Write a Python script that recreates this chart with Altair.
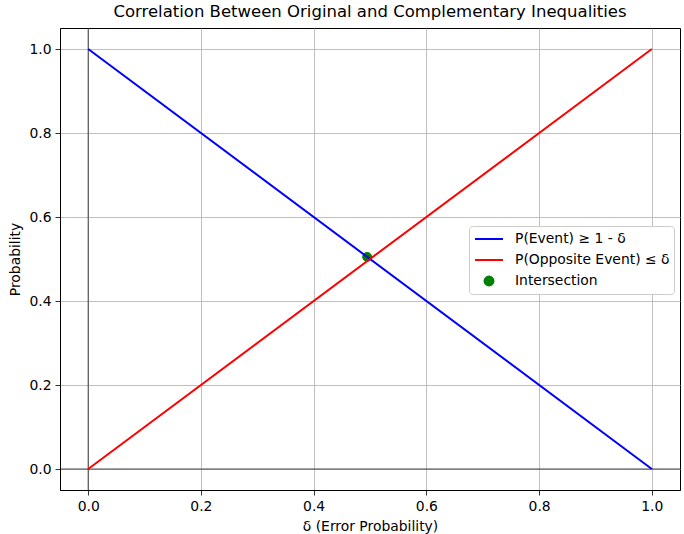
import altair as alt
import pandas as pd

delta = [0.0, 1.0]
p_event = [1.0, 0.0]
p_opposite = [0.0, 1.0]
inter_x = [0.4949]
inter_y = [0.5051]

labels = ["P(Event) ≥ 1 - δ", "P(Opposite Event) ≤ δ", "Intersection"]
colors = ["#0000ff", "#ff0000", "#008000"]
shapes = ["M-1.75,0H1.75", "M-1.75,0H1.75",
          "M0.56,0A0.56,0.56,0,1,1,-0.56,0A0.56,0.56,0,1,1,0.56,0Z"]

lines_df = pd.DataFrame({
    "x": delta + delta,
    "y": p_event + p_opposite,
    "series": [labels[0]] * len(delta) + [labels[1]] * len(delta),
})
pt_df = pd.DataFrame({"x": inter_x, "y": inter_y, "series": [labels[2]]})

FONT = "DejaVu Sans"
xscale = alt.Scale(domain=[-0.05, 1.05], nice=False, zero=False)
yscale = alt.Scale(domain=[-0.05, 1.05], nice=False, zero=False)
tick_vals = [0.0, 0.2, 0.4, 0.6, 0.8, 1.0]

xaxis = alt.Axis(values=tick_vals, format=".1f", title="δ (Error Probability)")
yaxis = alt.Axis(values=tick_vals, format=".1f", title="Probability")

legend = alt.Legend(title=None, orient="none", legendX=409, legendY=198)

stroke_scale = alt.Scale(domain=labels, range=colors)
fill_scale = alt.Scale(domain=labels, range=colors)
shape_scale = alt.Scale(domain=labels, range=shapes)

pts = alt.Chart(pt_df).mark_point(filled=True, size=256, strokeWidth=1, opacity=1).encode(
    x=alt.X("x:Q", scale=xscale, axis=xaxis),
    y=alt.Y("y:Q", scale=yscale, axis=yaxis),
    fill=alt.Fill("series:N", scale=fill_scale, legend=legend),
    stroke=alt.Stroke("series:N", scale=stroke_scale, legend=legend),
    shape=alt.Shape("series:N", scale=shape_scale, legend=legend),
)

lines = alt.Chart(lines_df).mark_line(strokeWidth=2).encode(
    x=alt.X("x:Q", scale=xscale, axis=xaxis),
    y=alt.Y("y:Q", scale=yscale, axis=yaxis),
    stroke=alt.Stroke("series:N", scale=stroke_scale, legend=legend),
    detail="series:N",
)

hline = alt.Chart(pd.DataFrame({"v": [0.0]})).mark_rule(color="black", strokeWidth=0.7).encode(
    y=alt.Y("v:Q", scale=yscale))
vline = alt.Chart(pd.DataFrame({"v": [0.0]})).mark_rule(color="black", strokeWidth=0.7).encode(
    x=alt.X("v:Q", scale=xscale))

chart = alt.layer(hline, vline, pts, lines).properties(
    width=620, height=462,
    title=alt.TitleParams("Correlation Between Original and Complementary Inequalities",
                          fontSize=16.5, font=FONT, fontWeight="normal", anchor="middle",
                          frame="group", offset=7, color="black"),
    autosize=alt.AutoSizeParams(type="none"),
    padding={"left": 60, "top": 28, "right": 4, "bottom": 44},
).configure_view(stroke="black", strokeWidth=1).configure_axis(
    labelFont=FONT, titleFont=FONT, labelFontSize=13.9, titleFontSize=13.9,
    titleFontWeight="normal", labelColor="black", titleColor="black",
    domainColor="black", domainWidth=1, tickColor="black", tickSize=5, tickWidth=0.8,
    labelPadding=4, grid=True, gridColor="#b0b0b0", gridWidth=0.8,
).configure_axisX(titlePadding=7).configure_axisY(titlePadding=6).configure_legend(
    labelFont=FONT, labelFontSize=13.9, labelColor="black", fillColor="white",
    strokeColor="#cccccc", cornerRadius=3, padding=4, rowPadding=5,
    symbolSize=256, symbolStrokeWidth=2, symbolOffset=7, labelOffset=17,
)

chart.save("out.html", embed_options={"renderer": "svg", "actions": False})
